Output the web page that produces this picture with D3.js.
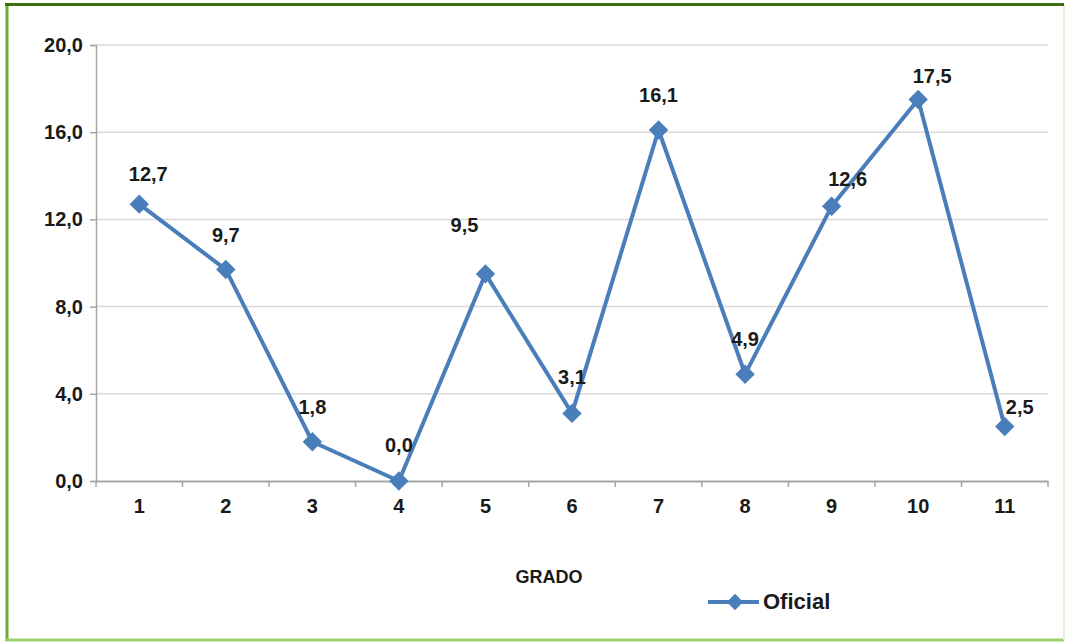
<!DOCTYPE html>
<html><head><meta charset="utf-8">
<script src="https://cdn.jsdelivr.net/npm/d3@7"></script>
<style>body{margin:0;background:#fff}svg{display:block}text{font-family:"Liberation Sans",Arial,sans-serif;font-weight:bold;fill:#1a1a1a}</style>
</head><body><svg id="c" width="1067" height="642"></svg>
<script>
const categories = ["1","2","3","4","5","6","7","8","9","10","11"];
const values = [12.7, 9.7, 1.8, 0.0, 9.5, 3.1, 16.1, 4.9, 12.6, 17.5, 2.5];
const yTicks = [0, 4, 8, 12, 16, 20];
const seriesName = "Oficial";
const xTitle = "GRADO";

const svg = d3.select("#c");
const W = 1067, H = 642;
const m = {left: 96, right: 19, top: 45, bottom: 161};
const color = "#4a7ebb";
const fmt = v => d3.format(".1f")(v).replace(".", ",");
const FS = 20;

// frame
svg.append("rect").attr("x",0).attr("y",0).attr("width",W).attr("height",H).attr("fill","#fff");
svg.append("line").attr("x1",7).attr("x2",7).attr("y1",4).attr("y2",640).attr("stroke","#6fae32").attr("stroke-width",3);
svg.append("line").attr("x1",5).attr("x2",1064).attr("y1",640).attr("y2",640).attr("stroke","#9ed06a").attr("stroke-width",3);
svg.append("line").attr("x1",1064).attr("x2",1064).attr("y1",4).attr("y2",640).attr("stroke","#e4efd8").attr("stroke-width",2);
svg.append("line").attr("x1",5).attr("x2",1064).attr("y1",4.5).attr("y2",4.5).attr("stroke","#3d6e12").attr("stroke-width",3);

const x = d3.scaleBand().domain(categories).range([m.left, W - m.right]);
const y = d3.scaleLinear().domain([0, 20]).range([H - m.bottom, m.top]);

// gridlines
svg.append("g").selectAll("line").data(yTicks.filter(d => d > 0)).join("line")
  .attr("x1", m.left).attr("x2", W - m.right)
  .attr("y1", d => y(d)).attr("y2", d => y(d))
  .attr("stroke", "#d9d9d9").attr("stroke-width", 1.5);

// y axis
const ya = svg.append("g").attr("transform", `translate(${m.left},0)`)
  .call(d3.axisLeft(y).tickValues(yTicks).tickFormat(fmt).tickSize(6).tickPadding(7));
ya.select(".domain").attr("stroke", "#a6a6a6").attr("stroke-width", 1.5);
ya.selectAll(".tick line").attr("stroke", "#a6a6a6").attr("stroke-width", 1.5);
ya.selectAll("text").attr("font-size", FS).attr("font-family", "Liberation Sans, Arial, sans-serif").attr("font-weight", "bold").attr("fill", "#1a1a1a");

// x axis
const xa = svg.append("g").attr("transform", `translate(0,${y(0)})`)
  .call(d3.axisBottom(x).tickSize(0).tickPadding(18));
xa.select(".domain").attr("stroke", "#a6a6a6").attr("stroke-width", 2);
xa.selectAll("text").attr("font-size", FS).attr("font-family", "Liberation Sans, Arial, sans-serif").attr("font-weight", "bold").attr("fill", "#1a1a1a");
const bounds = categories.map(c => x(c)).concat([x(categories[categories.length-1]) + x.bandwidth()]);
svg.append("g").selectAll("line").data(bounds).join("line")
  .attr("x1", d => d).attr("x2", d => d).attr("y1", y(0)).attr("y2", y(0) + 6)
  .attr("stroke", "#a6a6a6").attr("stroke-width", 1.5);

const cx = (c) => x(c) + x.bandwidth() / 2;
const data = categories.map((c, i) => ({c, v: values[i]}));

// line
svg.append("path").datum(data)
  .attr("d", d3.line().x(d => cx(d.c)).y(d => y(d.v)))
  .attr("fill", "none").attr("stroke", color).attr("stroke-width", 4).attr("stroke-linejoin", "round");

const diamond = d3.symbol().type(d3.symbolDiamond2).size(240);
svg.append("g").selectAll("path").data(data).join("path")
  .attr("transform", d => `translate(${cx(d.c)},${y(d.v)})`)
  .attr("d", diamond).attr("fill", color);

// labels (layout nudges only)
const nudge = [[9,-28],[0,-33],[0,-33],[0,-34],[-21,-47],[0,-35],[0,-33],[0,-33],[16,-26],[14,-22],[15,-18]];
svg.append("g").selectAll("text").data(data).join("text")
  .attr("x", (d, i) => cx(d.c) + nudge[i][0])
  .attr("y", (d, i) => y(d.v) + nudge[i][1])
  .attr("text-anchor", "middle").attr("dominant-baseline", "middle")
  .attr("font-size", FS).text(d => fmt(d.v));

// axis title
svg.append("text").attr("x", 549).attr("y", 578).attr("text-anchor", "middle")
  .attr("dominant-baseline", "middle").attr("font-size", 18).text(xTitle);

// legend
const lg = svg.append("g").attr("transform", "translate(708,602)");
lg.append("line").attr("x1", 0).attr("x2", 51).attr("stroke", color).attr("stroke-width", 4);
lg.append("path").attr("transform", "translate(27,0)").attr("d", d3.symbol().type(d3.symbolDiamond2).size(170)).attr("fill", color);
lg.append("text").attr("x", 55).attr("y", 1).attr("dominant-baseline", "middle").attr("font-size", 22).text(seriesName);
</script></body></html>
